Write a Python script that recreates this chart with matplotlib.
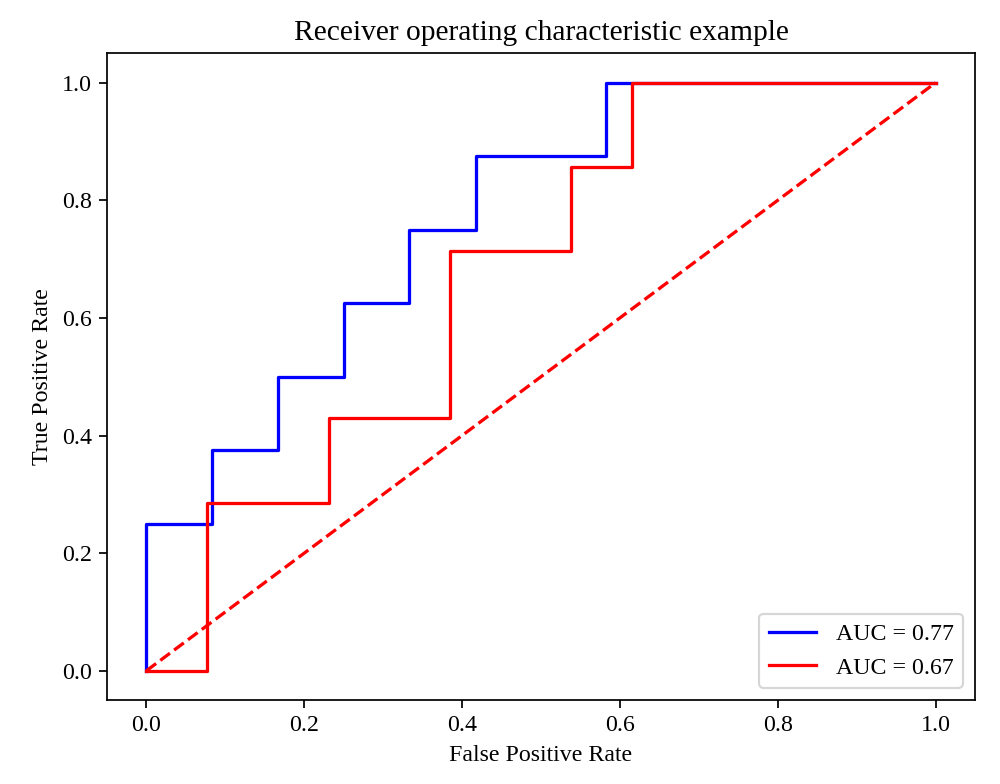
import matplotlib
matplotlib.use("Agg")
import matplotlib.pyplot as plt

plt.rcParams["font.family"] = ["Liberation Serif", "DejaVu Serif"]
plt.rcParams["font.size"] = 11

# ROC curve corner points
fpr_a = [0.0, 0.0, 0.083, 0.083, 0.167, 0.167, 0.25, 0.25, 0.333, 0.333, 0.417, 0.417, 0.583, 0.583, 1.0]
tpr_a = [0.0, 0.25, 0.25, 0.375, 0.375, 0.5, 0.5, 0.625, 0.625, 0.75, 0.75, 0.875, 0.875, 1.0, 1.0]
auc_a = 0.77

fpr_b = [0.0, 0.077, 0.077, 0.231, 0.231, 0.385, 0.385, 0.538, 0.538, 0.615, 0.615, 1.0]
tpr_b = [0.0, 0.0, 0.286, 0.286, 0.429, 0.429, 0.714, 0.714, 0.857, 0.857, 1.0, 1.0]
auc_b = 0.67

chance = [0.0, 1.0]

fig, ax = plt.subplots(figsize=(6.4, 784 / 156.25), dpi=156.25)
fig.subplots_adjust(left=0.107, right=0.975, bottom=0.107, top=0.932)

ax.plot(fpr_a, tpr_a, color="b", label=f"AUC = {auc_a:.2f}")
ax.plot(fpr_b, tpr_b, color="r", label=f"AUC = {auc_b:.2f}")
ax.plot(chance, chance, "r--")

ax.set_title("Receiver operating characteristic example", fontsize=13.6)
ax.set_xlabel("False Positive Rate")
ax.set_ylabel("True Positive Rate")
ax.legend(loc="lower right")

fig.savefig("out.png", dpi=156.25)
